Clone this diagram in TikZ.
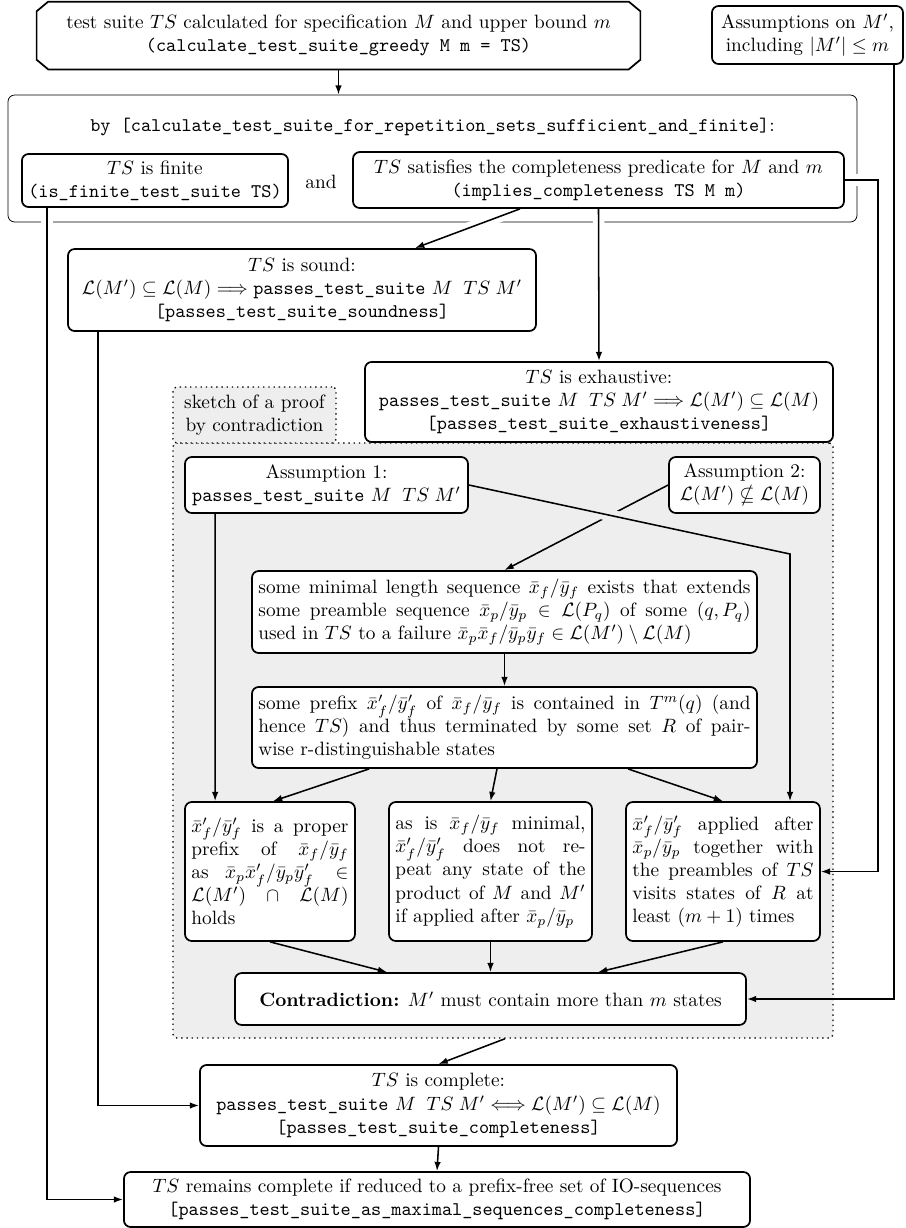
\documentclass[tikz,border=0pt]{standalone}
\usepackage{amssymb}
\usetikzlibrary{arrows.meta,calc}
\pgfdeclarelayer{bg}
\pgfdeclarelayer{mid}
\pgfsetlayers{bg,mid,main}
\definecolor{regfill}{gray}{0.935}
\begin{document}
\begin{tikzpicture}[x=0.5181pt,y=-0.5181pt,
  box/.style={draw, line width=0.9pt, rounded corners=3.5pt, fill=white, align=center, inner sep=3.33pt},
  jbox/.style={box, align=justify},
  conn/.style={line width=0.8pt, -{Latex[length=4.8pt,width=3.4pt]}},
  halo/.style={draw=white, line width=6pt},
  ghalo/.style={draw=regfill, line width=6pt}]
\useasboundingbox (0,0) rectangle (905,1228);

% ---------- background layer: container and proof region ----------
\begin{pgfonlayer}{bg}
\node[draw, thin, rounded corners=3.5pt, minimum width=439.9pt, minimum height=65.8pt, inner sep=0pt] (cont) at (432.5,158.5) {};
\node[draw, dotted, line width=0.7pt, fill=regfill, rounded corners=2pt, minimum width=342pt, minimum height=308.3pt, inner sep=0pt] (region) at (503,740.5) {};
\end{pgfonlayer}

% ---------- nodes ----------
\node[fill=white, minimum width=312.4pt, minimum height=34.7pt, align=center, inner sep=2pt] (top) at (338.5,35.5)
  {test suite $TS$ calculated for specification $M$ and upper bound $m$\\
   \texttt{(calculate\_test\_suite\_greedy M m = TS)}};
\draw[line width=0.9pt] ([xshift=6pt]top.north west) -- ([xshift=-6pt]top.north east) -- ([yshift=-5pt]top.north east)
  -- ([yshift=5pt]top.south east) -- ([xshift=-6pt]top.south east) -- ([xshift=6pt]top.south west)
  -- ([yshift=5pt]top.south west) -- ([yshift=-5pt]top.north west) -- cycle;

\node[box, minimum width=99pt, minimum height=30.1pt] (assum) at (807.5,35)
  {Assumptions on $M'$,\\ including $|M'|\leq m$};

\node (by) at (432.5,127)
  {\texttt{by [calculate\_test\_suite\_for\_repetition\_sets\_sufficient\_and\_finite]}:};

\node[box, minimum width=137.8pt, minimum height=27.5pt] (finite) at (155,180.5)
  {$TS$ is finite\\ \texttt{(is\_finite\_test\_suite TS)}};
\node (and) at (321,182) {and};
\node[box, minimum width=254.4pt, minimum height=29pt] (compl) at (598.5,180)
  {$TS$ satisfies the completeness predicate for $M$ and $m$\\ \texttt{(implies\_completeness TS M m)}};

\node[box, minimum width=242.5pt, minimum height=42.5pt] (sound) at (302,290)
  {$TS$ is sound:\\
   $\mathcal{L}(M') \subseteq \mathcal{L}(M) \Longrightarrow{}$\texttt{passes\_test\_suite} $M\;\;TS\;M'$\\
   \texttt{[passes\_test\_suite\_soundness]}};

\node[box, minimum width=242.5pt, minimum height=41.5pt] (exh) at (599,402)
  {$TS$ is exhaustive:\\
   \texttt{passes\_test\_suite} $M\;\;TS\;M' \Longrightarrow \mathcal{L}(M') \subseteq \mathcal{L}(M)$\\
   \texttt{[passes\_test\_suite\_exhaustiveness]}};

\node[draw, dotted, line width=0.7pt, fill=regfill, rounded corners=2pt, align=center, minimum width=84.5pt, minimum height=29pt, inner sep=2pt] (sketch) at (254.5,415)
  {sketch of a proof\\ by contradiction};

\node[box, minimum width=146.6pt, minimum height=29pt] (a1) at (326.5,485)
  {Assumption 1:\\ \texttt{passes\_test\_suite} $M\;\;TS\;M'$};
\node[box, minimum width=78.2pt, minimum height=29pt] (a2) at (744.5,485)
  {Assumption 2:\\ $\mathcal{L}(M') \nsubseteq \mathcal{L}(M)$};

\node[jbox, text width=255pt, minimum height=42.5pt] (minl) at (504.5,612)
  {some minimal length sequence $\bar{x}_f/\bar{y}_f$ exists that extends\linebreak
   some preamble sequence $\bar{x}_p/\bar{y}_p \in \mathcal{L}(P_q)$ of some $(q,P_q)$\linebreak
   used in $TS$ to a failure $\bar{x}_p\bar{x}_f/\bar{y}_p\bar{y}_f \in \mathcal{L}(M') \setminus \mathcal{L}(M)$};

\node[jbox, text width=255pt, minimum height=42pt] (prefix) at (504.5,727.5)
  {some prefix $\bar{x}'_f/\bar{y}'_f$ of $\bar{x}_f/\bar{y}_f$ is contained in $T^m(q)$ (and\linebreak
   hence $TS$) and thus terminated by some set $R$ of pair-\linebreak
   wise r-distinguishable states};

\node[jbox, text width=81.4pt, minimum height=72pt] (L) at (270,871.5)
  {$\bar{x}'_f/\bar{y}'_f$ is a proper\linebreak
   prefix of $\bar{x}_f/\bar{y}_f$\linebreak
   as $\bar{x}_p\bar{x}'_f/\bar{y}_p\bar{y}'_f \in$\linebreak
   $\mathcal{L}(M') \cap \mathcal{L}(M)$\linebreak
   holds};

\node[jbox, text width=98.5pt, minimum height=72pt] (mid) at (490.5,871.5)
  {as is $\bar{x}_f/\bar{y}_f$ minimal,\linebreak
   $\bar{x}'_f/\bar{y}'_f$ does not re-\linebreak
   peat any state of the\linebreak
   product of $M$ and $M'$\linebreak
   if applied after $\bar{x}_p/\bar{y}_p$};

\node[jbox, text width=93.8pt, minimum height=72pt] (R) at (723,871.5)
  {$\bar{x}'_f/\bar{y}'_f$ applied after\linebreak
   $\bar{x}_p/\bar{y}_p$ together with\linebreak
   the preambles of $TS$\linebreak
   visits states of $R$ at\linebreak
   least $(m+1)$ times};

\node[box, minimum width=264.8pt, minimum height=26.9pt] (contra) at (490.5,999)
  {\textbf{Contradiction:} $M'$ must contain more than $m$ states};

\node[box, minimum width=247.2pt, minimum height=42pt] (complete) at (438.5,1105.5)
  {$TS$ is complete:\\
   \texttt{passes\_test\_suite} $M\;\;TS\;M' \Longleftrightarrow \mathcal{L}(M') \subseteq \mathcal{L}(M)$\\
   \texttt{[passes\_test\_suite\_completeness]}};

\node[box, minimum width=324.4pt, minimum height=28.5pt] (final) at (437,1199.5)
  {$TS$ remains complete if reduced to a prefix-free set of IO-sequences\\
   \texttt{[passes\_test\_suite\_as\_maximal\_sequences\_completeness]}};

% ---------- connectors ----------
\begin{pgfonlayer}{mid}
\draw[conn] (top.south) -- (top.south |- cont.north);
% white halos where lines cross the container
\draw[halo] ($(finite.south west)+(26,0)$) -- ++(0,30);
\draw[halo] ($(compl.south)+(-78.5,0)$) -- ($(sound.north)+(113,0)$);
\draw[halo] (compl.south) -- (exh.north);
\draw[halo] (compl.east) -- ++(33,0) -- ++(0,40);

\draw[conn] ($(compl.south)+(-78.5,0)$) -- ($(sound.north)+(113,0)$);
\draw[conn] (compl.south) -- (exh.north);
\draw[conn] (compl.east) -- ++(33,0) |- (R.east);
\draw[conn] ($(assum.south east)+(-10,0)$) |- (contra.east);
\draw[conn] ($(finite.south west)+(26,0)$) |- (final.west);
\draw[conn] ($(sound.south west)+(31,0)$) |- (complete.west);

\draw[conn] (a2.west) -- (minl.north);
\coordinate (bend) at (790,554);
\draw[ghalo] (a1.east) -- (bend);
\draw[conn] (a1.east) -- (bend) -- (bend |- R.north);
\draw[conn] ($(a1.south west)+(31,0)$) -- ($(L.north west)+(31,0)$);
\draw[conn] (minl.south) -- (prefix.north);
\draw[conn] ($(prefix.south west)+(118,0)$) -- ($(L.north)+(3,0)$);
\draw[conn] ($(prefix.south)+(-7.5,0)$) -- (mid.north);
\draw[conn] ($(prefix.south)+(123.5,0)$) -- (R.north);
\draw[conn] (L.south) -- ($(contra.north west)+(153,0)$);
\draw[conn] (mid.south) -- (contra.north);
\draw[conn] (R.south) -- ($(contra.north)+(107.5,0)$);
\draw[conn] ($(region.south)+(2,0)$) -- (complete.north);
\draw[conn] (complete.south) -- (final.north);
\end{pgfonlayer}
\end{tikzpicture}
\end{document}
